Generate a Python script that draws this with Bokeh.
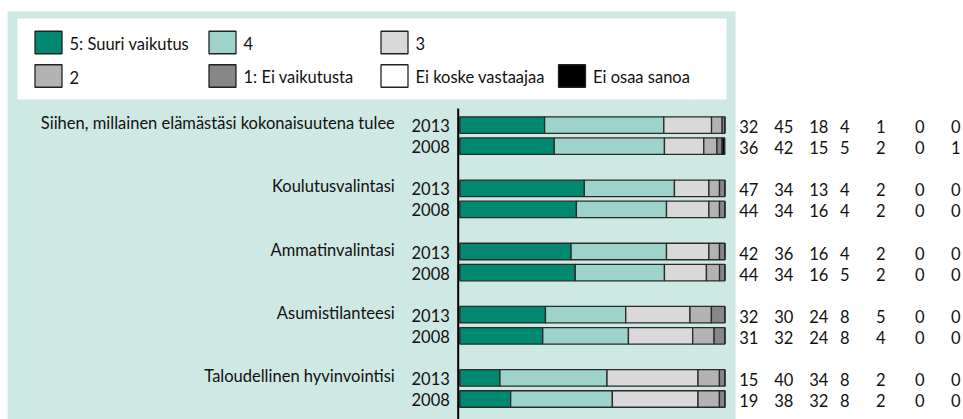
from bokeh.plotting import figure
from bokeh.models import Range1d, ColumnDataSource
from bokeh.embed import file_html
from bokeh.resources import INLINE
from bokeh.core.properties import value

# ---------------- data ----------------
topics = ["Siihen, millainen elämästäsi kokonaisuutena tulee",
          "Koulutusvalintasi", "Ammatinvalintasi",
          "Asumistilanteesi", "Taloudellinen hyvinvointisi"]
years = ["2013", "2008"]
categories = ["5: Suuri vaikutus", "4", "3", "2", "1: Ei vaikutusta",
              "Ei koske vastaajaa", "Ei osaa sanoa"]
# rows: topic1 2013, topic1 2008, topic2 2013, ...
s5 = [32, 36, 47, 44, 42, 44, 32, 31, 15, 19]
s4 = [45, 42, 34, 34, 36, 34, 30, 32, 40, 38]
s3 = [18, 15, 13, 16, 16, 16, 24, 24, 34, 32]
s2 = [4, 5, 4, 4, 4, 5, 8, 8, 8, 8]
s1 = [1, 2, 2, 2, 2, 2, 5, 4, 2, 2]
s_na = [0, 0, 0, 0, 0, 0, 0, 0, 0, 0]
s_dk = [0, 1, 0, 0, 0, 0, 0, 0, 0, 0]
series = [s5, s4, s3, s2, s1, s_na, s_dk]
colors = ["#008870", "#9DD3CB", "#D9D9D9", "#B3B3B3", "#878787", "#FFFFFF", "#000000"]

# ---------------- layout ----------------
W, H = 963, 419
PX = 2.65          # pixels per percent
X0 = 459.3         # pixel position of 0 %
def xd(px):
    return (px - X0) / PX

ROW0, GSTEP, RSTEP, BAR_H = 124.6, 63.2, 21.1, 16.5
row_y = []
for g in range(len(topics)):
    for k in range(len(years)):
        row_y.append(ROW0 + g * GSTEP + k * RSTEP)

FONT = value("Lato")
FS = "16.5px"

p = figure(width=W, height=H, output_backend="svg", toolbar_location=None,
           x_range=Range1d(xd(0), xd(W)), y_range=Range1d(H, 0),
           x_axis_location=None, y_axis_location=None, min_border=0,
           background_fill_color="white", border_fill_color="white",
           outline_line_color=None)
p.grid.visible = False

# background panel & legend box
p.quad(left=[xd(7)], right=[xd(735)], top=[11], bottom=[H + 2],
       fill_color="#CEE8E4", line_color=None)
p.quad(left=[xd(17)], right=[xd(726)], top=[18], bottom=[99],
       fill_color="white", line_color=None)

# legend (manual, 2 rows x 4 columns)
leg_cols = [34.5, 208.5, 380.5, 558]
leg_rows = [42, 75.5]
order = [(0, 0), (0, 1), (0, 2), (1, 0), (1, 1), (1, 2), (1, 3)]
lx, ly, ltx, lty = [], [], [], []
for (r, c) in order:
    lx.append(xd(leg_cols[c] + 13.5))
    ly.append(leg_rows[r])
    ltx.append(xd(leg_cols[c] + 34.5))
    lty.append(leg_rows[r] + 1)
p.rect(x=lx, y=ly, width=27 / PX, height=22.5, fill_color=colors,
       line_color="#222222", line_width=1.3)
p.text(x=ltx, y=lty, text=categories, text_font=FONT, text_font_size=FS,
       text_baseline="alphabetic", text_align="left", text_color="#111111")

# stacked bars (normalised to 100 %)
totals = [sum(s[i] for s in series) for i in range(len(row_y))]
left = [0.0] * len(row_y)
for s, col in zip(series, colors):
    share = [v / t * 100 for v, t in zip(s, totals)]
    right = [l + v for l, v in zip(left, share)]
    src = ColumnDataSource(dict(y=row_y, left=left, right=right))
    p.hbar(y="y", left="left", right="right", height=BAR_H, source=src,
           fill_color=col, line_color="#2a2a2a", line_width=1.3)
    left = right

# vertical axis line
p.segment(x0=[xd(457.7)], y0=[108], x1=[xd(457.7)], y1=[H + 2],
          line_color="black", line_width=2)

# year labels
year_lab = [years[i % 2] for i in range(len(row_y))]
p.text(x=[0] * len(row_y), y=[y + 0.5 for y in row_y], text=year_lab,
       x_offset=-10, text_align="right", text_baseline="alphabetic",
       text_font=FONT, text_font_size=FS, text_color="#111111")

# topic labels
p.text(x=[0] * len(topics), y=[row_y[2 * g] - 2 for g in range(len(topics))],
       text=topics, x_offset=-65, text_align="right", text_baseline="alphabetic",
       text_font=FONT, text_font_size=FS, text_color="#111111")

# value columns
col_off = [24, 59, 94, 120, 156, 195, 231]
for s, off in zip(series, col_off):
    p.text(x=[100] * len(row_y), y=[y + 1.5 for y in row_y], text=[str(v) for v in s],
           x_offset=off, text_align="center", text_baseline="alphabetic",
           text_font=FONT, text_font_size=FS, text_color="#111111")

open("out.html", "w").write(file_html(p, INLINE))
